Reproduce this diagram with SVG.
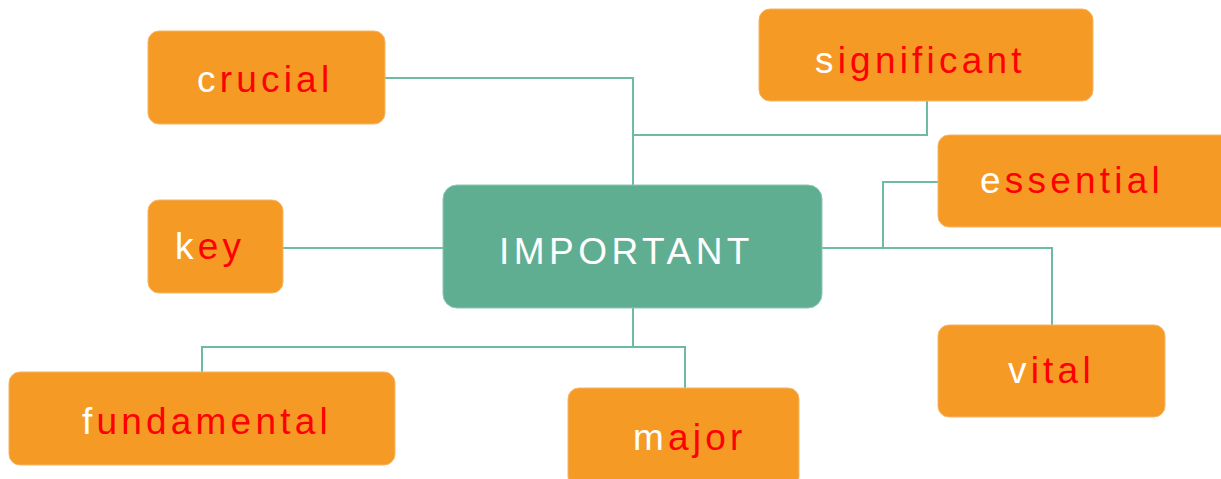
<svg xmlns="http://www.w3.org/2000/svg" width="1221" height="479" viewBox="0 0 1221 479">
  <style>
    .leaf { fill: #F59B25; stroke: #F7B466; stroke-width: 1; }
    .hub { fill: #60AE91; stroke: #8CC7B1; stroke-width: 1; }
    .link { fill: none; stroke: #6DBBA2; stroke-width: 2; }
    .word { font-family: "Liberation Sans", Arial, sans-serif; font-size: 37px; letter-spacing: 4.2px; fill: #FF0000; }
    .first { fill: #FFFFFF; }
    .hubtext { font-family: "Liberation Sans", Arial, sans-serif; font-size: 37px; letter-spacing: 4.5px; fill: #FFFFFF; }
  </style>

  <!-- connectors -->
  <g id="connectors">
    <polyline class="link" points="385,78 633,78 633,185"/>
    <polyline class="link" points="927,101 927,135 633,135"/>
    <line class="link" x1="283" y1="248" x2="443" y2="248"/>
    <polyline class="link" points="938,182 883,182 883,248"/>
    <polyline class="link" points="822,248 1052,248 1052,325"/>
    <line class="link" x1="633" y1="308" x2="633" y2="347"/>
    <polyline class="link" points="202,372 202,347 685,347 685,388"/>
  </g>

  <g id="node-crucial">
    <rect class="leaf" x="148" y="31" width="237" height="93" rx="11"/>
    <text class="word" x="197" y="92"><tspan class="first">c</tspan>rucial</text>
  </g>

  <g id="node-significant">
    <rect class="leaf" x="759" y="9" width="334" height="92" rx="11"/>
    <text class="word" x="815" y="73"><tspan class="first">s</tspan>ignificant</text>
  </g>

  <g id="node-essential">
    <rect class="leaf" x="938" y="135" width="295" height="92" rx="11"/>
    <text class="word" x="980" y="193"><tspan class="first">e</tspan>ssential</text>
  </g>

  <g id="node-key">
    <rect class="leaf" x="148" y="200" width="135" height="93" rx="11"/>
    <text class="word" x="175" y="259"><tspan class="first">k</tspan>ey</text>
  </g>

  <g id="node-important">
    <rect class="hub" x="443" y="185" width="379" height="123" rx="14"/>
    <text class="hubtext" x="499" y="264">IMPORTANT</text>
  </g>

  <g id="node-vital">
    <rect class="leaf" x="938" y="325" width="227" height="92" rx="11"/>
    <text class="word" x="1008" y="383"><tspan class="first">v</tspan>ital</text>
  </g>

  <g id="node-fundamental">
    <rect class="leaf" x="9" y="372" width="386" height="93" rx="11"/>
    <text class="word" x="82" y="434"><tspan class="first">f</tspan>undamental</text>
  </g>

  <g id="node-major">
    <rect class="leaf" x="568" y="388" width="231" height="100" rx="11"/>
    <text class="word" x="633" y="450"><tspan class="first">m</tspan>ajor</text>
  </g>
</svg>
